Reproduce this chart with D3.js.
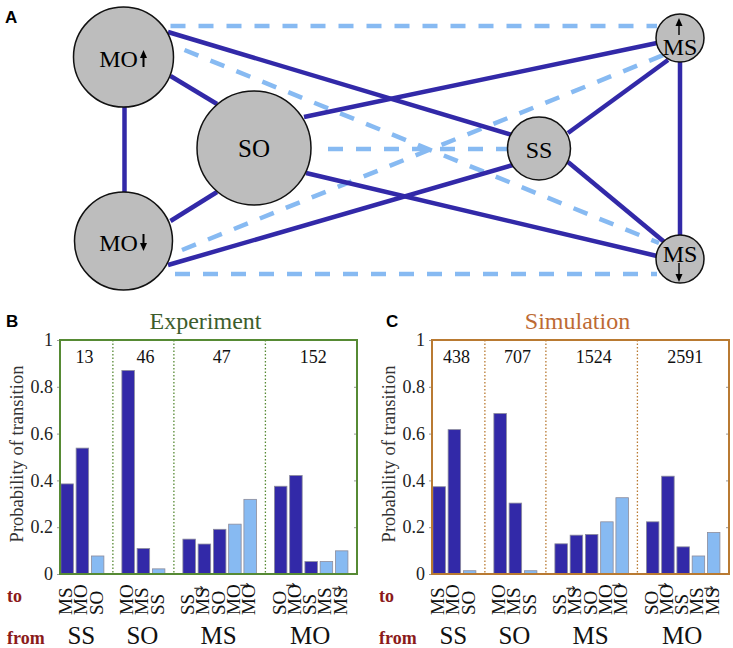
<!DOCTYPE html>
<html>
<head>
<meta charset="utf-8">
<script src="https://cdn.jsdelivr.net/npm/d3@7"></script>
<style>
  body { margin: 0; background: #fff; }
  text { font-family: "Liberation Serif", "Times New Roman", serif; }
</style>
</head>
<body>
<div id="chart"></div>
<script>
// transitions between states - network (A) + probabilities (B, C)

// ---- data ----
const fromStates = ["SS", "SO", "MS", "MO"]
const toStates = [
  ["MS", "MO", "SO"],
  ["MO", "MS", "SS"],
  ["SS", "MS↓", "SO", "MO", "MO↓"],
  ["SO", "MO↓", "SS", "MS", "MS↓"]
]
// 0 = solid link in the network, 1 = dashed link
const linkType = [[0, 0, 1], [0, 0, 1], [0, 0, 0, 1, 1], [0, 0, 0, 1, 1]]
const expCounts = [13, 46, 47, 152]
const simCounts = [438, 707, 1524, 2591]
const expProb = [
  [0.385, 0.538, 0.077],
  [0.870, 0.109, 0.022],
  [0.149, 0.128, 0.191, 0.213, 0.319],
  [0.375, 0.421, 0.053, 0.053, 0.099]
]
const simProb = [
  [0.373, 0.617, 0.014],
  [0.686, 0.303, 0.014],
  [0.129, 0.166, 0.169, 0.223, 0.326],
  [0.223, 0.418, 0.116, 0.077, 0.177]
]
const yTicks = [0, 0.2, 0.4, 0.6, 0.8, 1]

const nodes = ["MO↑", "MO↓", "SO", "SS", "MS↑", "MS↓"]
const solidLinks = [["MO↑","MO↓"], ["MO↑","SO"], ["MO↓","SO"], ["MO↑","SS"], ["MO↓","SS"],
                    ["SO","MS↑"], ["SO","MS↓"], ["SS","MS↑"], ["SS","MS↓"], ["MS↑","MS↓"]]
const dashedLinks = [["MO↑","MS↑"], ["MO↓","MS↓"], ["MO↑","MS↓"], ["MO↓","MS↑"], ["SO","SS"]]

// ---- layout ----
const W = 733, H = 648
const DARK = "#3229a8", LIGHT = "#87baf2"
const RED = "#8b1a1a"

const nodePos = {
  "MO↑": {x: 123.5, y: 57, r: 50},
  "MO↓": {x: 123.5, y: 241, r: 49},
  "SO":  {x: 254, y: 148, r: 57},
  "SS":  {x: 539, y: 148.5, r: 31.5},
  "MS↑": {x: 680, y: 38, r: 24},
  "MS↓": {x: 680, y: 259, r: 24}
}
// where each link leaves / enters its nodes (offset from centre)
const ports = {
  "MO↑|MO↓": [[1, 50], [1, -49]],
  "MO↑|SO":  [[47, 19], [-37, -44]],
  "MO↓|SO":  [[47, -20], [-37, 44]],
  "MO↑|SS":  [[44.5, -25], [-27, -13.5]],
  "MO↓|SS":  [[44.5, 24], [-26, 16.5]],
  "SO|MS↑":  [[50, -31], [-23, 5]],
  "SO|MS↓":  [[52, 25], [-23, -3]],
  "SS|MS↑":  [[29, -15.5], [-12, 22]],
  "SS|MS↓":  [[29, 13.5], [-12, -14]],
  "MS↑|MS↓": [[0, 24], [0, -24]],
  "MO↑|MS↑": [[47, -31], [-23, -12]],
  "MO↓|MS↓": [[51.5, 33], [-23, 15]],
  "MO↑|MS↓": [[61, -7], [-21, -16]],
  "MO↓|MS↑": [[58.5, 9], [-16.5, 17]],
  "SO|SS":   [[74, 1], [-31, 0.5]]
}

const svg = d3.select("#chart").append("svg")
    .attr("width", W)
    .attr("height", H)

svg.append("rect").attr("width", W).attr("height", H).attr("fill", "#fff")

function panelLetter(t, x, y) {
  svg.append("text")
    .attr("x", x).attr("y", y)
    .style("font-family", "'Liberation Sans', Arial, sans-serif")
    .attr("font-weight", "bold")
    .attr("font-size", "17px")
    .text(t)
}

function arrow(g, x, y1, y2, w) {
  const dir = y2 < y1 ? 1 : -1
  g.append("line")
    .attr("x1", x).attr("x2", x)
    .attr("y1", y1).attr("y2", y2 + dir * 5)
    .attr("stroke", "#000").attr("stroke-width", w)
  g.append("path")
    .attr("d", `M${x - 3.5},${y2 + dir * 8} L${x},${y2} L${x + 3.5},${y2 + dir * 8} Z`)
    .attr("fill", "#000")
}

// ---- panel A ----
panelLetter("A", 5, 23)

const net = svg.append("g")

function linkLine(l, dashed) {
  const p = ports[l[0] + "|" + l[1]]
  const a = nodePos[l[0]], b = nodePos[l[1]]
  net.append("line")
    .attr("x1", a.x + p[0][0]).attr("y1", a.y + p[0][1])
    .attr("x2", b.x + p[1][0]).attr("y2", b.y + p[1][1])
    .attr("stroke", dashed ? LIGHT : DARK)
    .attr("stroke-width", 4.5)
    .attr("stroke-dasharray", dashed ? "15,13" : null)
}
dashedLinks.forEach(l => linkLine(l, true))
solidLinks.forEach(l => linkLine(l, false))

nodes.forEach(n => {
  const p = nodePos[n]
  net.append("circle")
    .attr("cx", p.x).attr("cy", p.y).attr("r", p.r)
    .attr("fill", "#bdbdbd")
    .attr("stroke", "#111").attr("stroke-width", 1.5)
  const base = n.replace(/[↑↓]/, "")
  const up = n.includes("↑")
  if (base === "MO") {
    net.append("text")
      .attr("x", p.x - 5).attr("y", p.y + 10)
      .attr("text-anchor", "middle")
      .attr("font-size", "24px")
      .text(base)
    const ax = p.x + 20
    if (up) arrow(net, ax, p.y + 10, p.y - 7, 2)
    else arrow(net, ax, p.y - 7, p.y + 10, 2)
  } else if (base === "MS") {
    net.append("text")
      .attr("x", p.x).attr("y", up ? p.y + 17 : p.y + 3)
      .attr("text-anchor", "middle")
      .attr("font-size", "24px")
      .text(base)
    if (up) arrow(net, p.x - 1, p.y - 3, p.y - 20, 1.4)
    else arrow(net, p.x - 1, p.y + 4, p.y + 23, 1.4)
  } else {
    net.append("text")
      .attr("x", p.x).attr("y", p.y + 9)
      .attr("text-anchor", "middle")
      .attr("font-size", base === "SO" ? "25px" : "24px")
      .text(base)
  }
})

// ---- panels B and C ----
const TOP = 340, BOTTOM = 574

function drawPanel(opt) {
  const g = svg.append("g")
  const left = opt.left, right = opt.left + 297

  // slots: one per bar, with an empty slot between groups
  const slots = []
  toStates.forEach((ts, gi) => {
    if (gi > 0) slots.push("gap" + gi)
    ts.forEach((t, ti) => slots.push(gi + "-" + ti))
  })
  const bars = []
  toStates.forEach((ts, gi) => ts.forEach((t, ti) => bars.push({
    key: gi + "-" + ti, label: t, value: opt.values[gi][ti], type: linkType[gi][ti]
  })))

  const x = d3.scaleBand()
      .domain(slots)
      .range([left - 0.5, left + 289.3])
      .paddingInner(0.18)
      .paddingOuter(0.09)
  const y = d3.scaleLinear().domain([0, 1]).range([BOTTOM, TOP])

  // title
  g.append("text")
    .attr("x", (left + right) / 2 - 3)
    .attr("y", 329)
    .attr("text-anchor", "middle")
    .attr("font-size", "24px")
    .attr("fill", opt.titleColor)
    .text(opt.title)

  // y axis
  const yAxis = g.append("g")
    .attr("transform", `translate(${left},0)`)
    .call(d3.axisLeft(y).tickValues(yTicks).tickSize(3).tickPadding(4).tickFormat(d3.format("")))
  yAxis.select(".domain").remove()
  yAxis.selectAll(".tick line").attr("stroke", "#999")
  yAxis.selectAll(".tick text")
    .attr("font-size", "18px")
    .attr("fill", "#222")
    .style("font-family", "'Liberation Serif', serif")

  const yAxisR = g.append("g")
    .attr("transform", `translate(${right},0)`)
    .call(d3.axisRight(y).tickValues(yTicks).tickSize(-3).tickFormat(""))
  yAxisR.select(".domain").remove()
  yAxisR.selectAll(".tick line").attr("stroke", "#999")

  g.append("text")
    .attr("transform", `translate(${left - 37},${(TOP + BOTTOM) / 2 - 3}) rotate(-90)`)
    .attr("text-anchor", "middle")
    .attr("font-size", "18.5px")
    .attr("fill", "#333")
    .text("Probability of transition")

  // group separators
  for (let gi = 1; gi < toStates.length; gi++) {
    const sx = x("gap" + gi) + x.bandwidth() / 2
    g.append("line")
      .attr("x1", sx).attr("x2", sx)
      .attr("y1", TOP).attr("y2", BOTTOM)
      .attr("stroke", opt.frameColor)
      .attr("stroke-width", 1.3)
      .attr("stroke-dasharray", "1.5,2")
  }

  // bars
  g.selectAll("rect.bar")
    .data(bars)
    .enter().append("rect")
      .attr("class", "bar")
      .attr("x", d => x(d.key))
      .attr("y", d => y(d.value))
      .attr("width", x.bandwidth())
      .attr("height", d => y(0) - y(d.value))
      .attr("fill", d => d.type ? LIGHT : DARK)
      .attr("stroke", "#8c8c9c")
      .attr("stroke-width", 0.8)

  // frame
  g.append("rect")
    .attr("x", left).attr("y", TOP)
    .attr("width", right - left).attr("height", BOTTOM - TOP)
    .attr("fill", "none")
    .attr("stroke", opt.frameColor)
    .attr("stroke-width", 2)

  // counts per group + from labels
  toStates.forEach((ts, gi) => {
    const x0 = x(gi + "-0"), x1 = x(gi + "-" + (ts.length - 1)) + x.bandwidth()
    const cx = (x0 + x1) / 2
    g.append("text")
      .attr("x", cx + 2).attr("y", 363)
      .attr("text-anchor", "middle")
      .attr("font-size", "18px")
      .attr("fill", "#111")
      .text(opt.counts[gi])
    g.append("text")
      .attr("x", cx - 1).attr("y", 644)
      .attr("text-anchor", "middle")
      .attr("font-size", "25px")
      .attr("fill", "#111")
      .text(fromStates[gi])
  })

  // rotated "to" labels
  bars.forEach(d => {
    const bx = x(d.key) + x.bandwidth() / 2 + 5
    const t = g.append("text")
      .attr("transform", `translate(${bx},615) rotate(-90)`)
      .attr("font-size", "19px")
      .attr("fill", "#111")
    const base = d.label.replace("↓", "")
    t.append("tspan").text(base)
    if (d.label.includes("↓")) {
      t.append("tspan")
        .attr("dx", -6).attr("dy", -6)
        .attr("font-size", "12px")
        .style("font-family", "'DejaVu Sans', sans-serif")
        .text("↓")
    }
  })

  g.append("text")
    .attr("x", opt.left - 53).attr("y", 602)
    .attr("font-size", "18px").attr("font-weight", "bold")
    .attr("fill", RED)
    .text("to")
  g.append("text")
    .attr("x", opt.left - 53).attr("y", 644)
    .attr("font-size", "18px").attr("font-weight", "bold")
    .attr("fill", RED)
    .text("from")
}

panelLetter("B", 6, 327)
drawPanel({left: 60, title: "Experiment", titleColor: "#3d5d2c", frameColor: "#568a34",
           values: expProb, counts: expCounts})

panelLetter("C", 386, 327)
drawPanel({left: 432, title: "Simulation", titleColor: "#bd6a34", frameColor: "#b97a32",
           values: simProb, counts: simCounts})
</script>
</body>
</html>
